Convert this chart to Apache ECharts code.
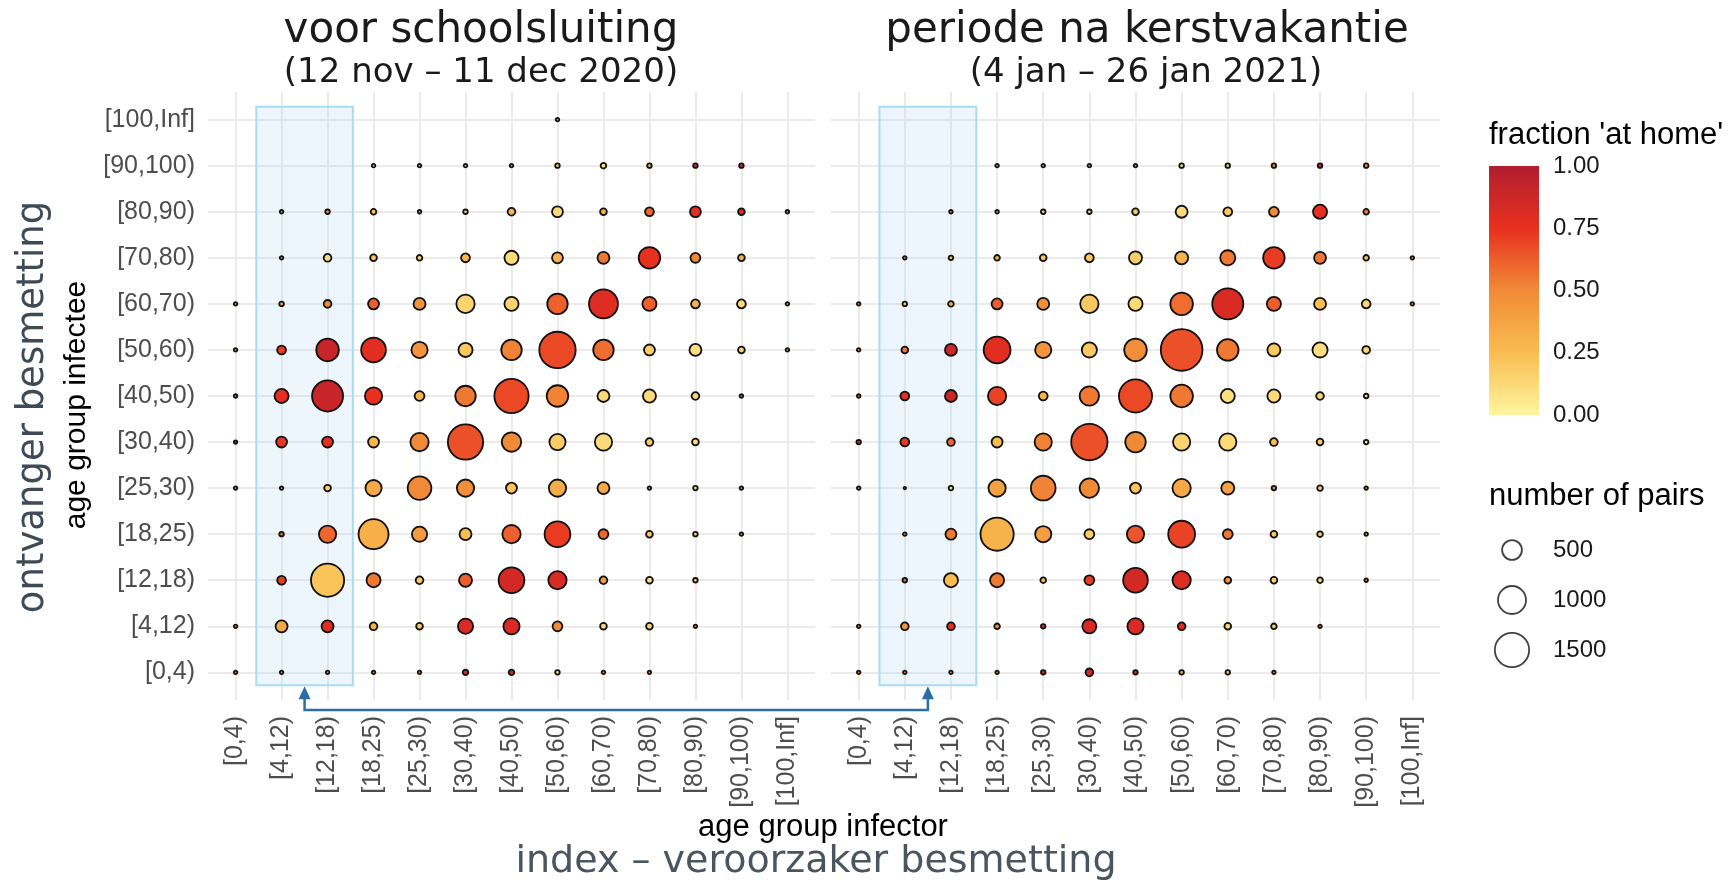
<!DOCTYPE html>
<html>
<head>
  <meta charset="utf-8">
  <title>age group infector / infectee</title>
  <script src="https://cdn.jsdelivr.net/npm/echarts@6/dist/echarts.min.js"></script>
  <style>
    html, body { margin: 0; background: #fff; }
    #chart { width: 1733px; height: 882px; }
  </style>
</head>
<body>
<div id="chart"></div>
<script>
  // age groups, bottom (index 0) to top / left to right
  const ageGroups = ['[0,4)', '[4,12)', '[12,18)', '[18,25)', '[25,30)', '[30,40)', '[40,50)',
    '[50,60)', '[60,70)', '[70,80)', '[80,90)', '[90,100)', '[100,Inf]'];
  const fracTicks = [0, 0.25, 0.5, 0.75, 1];
  const legendSizes = ['500', '1000', '1500'];

  // number of pairs, row = infectee group, column = infector group
  const preCount = [
    [16, 16, 16, 16, 16, 40, 40, 26, 16, 16, null, null, null],
    [16, 183, 183, 76, 57, 293, 335, 124, 57, 57, 16, null, null],
    [null, 99, 1402, 253, 76, 217, 845, 428, 76, 57, 26, null, null],
    [null, 26, 380, 1146, 293, 183, 428, 845, 124, 57, 26, 16, null],
    [16, 16, 57, 335, 712, 380, 152, 380, 183, 16, 26, 16, null],
    [16, 152, 152, 152, 428, 1587, 479, 335, 380, 76, 57, null, null],
    [16, 253, 1229, 380, 124, 533, 1494, 590, 183, 217, 76, 16, null],
    [16, 99, 650, 777, 335, 253, 533, 1684, 533, 152, 183, 57, 16],
    [16, 26, 76, 152, 183, 428, 253, 533, 1067, 253, 99, 99, 16],
    [null, 16, 76, 57, 40, 99, 253, 152, 183, 590, 124, 57, null],
    [null, 16, 26, 40, 16, 26, 76, 152, 57, 99, 152, 57, 16],
    [null, null, null, 16, 16, 16, 16, 26, 40, 26, 26, 26, null],
    [null, null, null, null, null, null, null, 16, null, null, null, null, null]
  ];
  // fraction 'at home'
  const preFrac = [
    [0.5, 0.5, 0.5, 0.5, 0.5, 0.85, 0.85, 0.1, 0.5, 0.5, null, null, null],
    [0.5, 0.35, 0.78, 0.3, 0.2, 0.82, 0.82, 0.5, 0.12, 0.15, 0.5, null, null],
    [null, 0.72, 0.22, 0.55, 0.2, 0.62, 0.85, 0.82, 0.4, 0.1, 0.1, null, null],
    [null, 0.6, 0.6, 0.32, 0.42, 0.25, 0.62, 0.72, 0.6, 0.2, 0.1, 0.5, null],
    [0.5, 0.5, 0.15, 0.35, 0.5, 0.48, 0.22, 0.33, 0.35, 0.5, 0.1, 0.5, null],
    [0.9, 0.74, 0.76, 0.28, 0.5, 0.66, 0.5, 0.18, 0.12, 0.2, 0.1, null, null],
    [0.5, 0.76, 0.9, 0.75, 0.3, 0.55, 0.68, 0.52, 0.12, 0.12, 0.15, 0.5, null],
    [0.5, 0.72, 0.9, 0.78, 0.45, 0.2, 0.52, 0.68, 0.58, 0.18, 0.1, 0.15, 0.5],
    [0.5, 0.3, 0.5, 0.62, 0.45, 0.15, 0.15, 0.62, 0.8, 0.62, 0.3, 0.12, 0.5],
    [null, 0.5, 0.12, 0.2, 0.15, 0.28, 0.12, 0.3, 0.55, 0.75, 0.5, 0.3, null],
    [null, 0.5, 0.4, 0.2, 0.4, 0.1, 0.3, 0.12, 0.3, 0.6, 0.78, 0.8, 0.5],
    [null, null, null, 0.3, 0.4, 0.3, 0.5, 0.2, 0.1, 0.3, 0.8, 0.85, null],
    [null, null, null, null, null, null, null, 0.5, null, null, null, null, null]
  ];
  const postCount = [
    [16, 16, 16, 16, 26, 76, 26, 26, 26, 16, null, null, null],
    [16, 76, 76, 40, 26, 253, 335, 76, 57, 40, 16, null, null],
    [null, 26, 253, 253, 40, 124, 777, 428, 57, 57, 40, 16, null],
    [null, 16, 152, 1402, 335, 124, 380, 916, 124, 57, 40, 16, null],
    [16, 8, 26, 380, 777, 479, 152, 428, 217, 26, 40, 16, null],
    [26, 99, 76, 152, 380, 1684, 533, 380, 380, 76, 57, 26, null],
    [16, 99, 183, 428, 99, 479, 1402, 650, 253, 217, 76, 26, null],
    [16, 57, 183, 916, 335, 293, 650, 2211, 590, 217, 293, 76, null],
    [16, 26, 40, 152, 183, 428, 253, 650, 1229, 253, 183, 99, 16],
    [null, 16, 26, 40, 57, 99, 217, 217, 293, 590, 183, 40, 16],
    [null, null, 16, 16, 26, 26, 57, 183, 99, 124, 253, 40, null],
    [null, null, null, 16, 16, 16, 16, 26, 26, 26, 26, 26, null],
    [null, null, null, null, null, null, null, null, null, null, null, null, null]
  ];
  const postFrac = [
    [0.5, 0.5, 0.5, 0.5, 0.8, 0.85, 0.8, 0.3, 0.2, 0.5, null, null, null],
    [0.5, 0.45, 0.75, 0.5, 0.75, 0.82, 0.82, 0.8, 0.15, 0.2, 0.5, null, null],
    [null, 0.55, 0.25, 0.55, 0.25, 0.72, 0.85, 0.8, 0.45, 0.15, 0.15, 0.5, null],
    [null, 0.55, 0.55, 0.3, 0.4, 0.18, 0.65, 0.7, 0.55, 0.2, 0.15, 0.5, null],
    [0.5, 0.5, 0.1, 0.38, 0.52, 0.5, 0.22, 0.35, 0.38, 0.5, 0.15, 0.5, null],
    [0.85, 0.72, 0.6, 0.25, 0.52, 0.66, 0.5, 0.15, 0.12, 0.25, 0.2, 0.1, null],
    [0.5, 0.76, 0.88, 0.7, 0.3, 0.55, 0.68, 0.55, 0.1, 0.12, 0.15, 0.1, null],
    [0.5, 0.55, 0.88, 0.78, 0.45, 0.2, 0.48, 0.66, 0.55, 0.2, 0.1, 0.15, null],
    [0.5, 0.2, 0.3, 0.62, 0.48, 0.2, 0.12, 0.58, 0.82, 0.62, 0.25, 0.15, 0.5],
    [null, 0.5, 0.2, 0.3, 0.2, 0.2, 0.18, 0.3, 0.55, 0.72, 0.55, 0.2, 0.5],
    [null, null, 0.5, 0.3, 0.1, 0.1, 0.2, 0.12, 0.2, 0.5, 0.75, 0.55, null],
    [null, null, null, 0.5, 0.5, 0.5, 0.5, 0.1, 0.2, 0.55, 0.8, 0.45, null],
    [null, null, null, null, null, null, null, null, null, null, null, null, null]
  ];

  const fracColors = ['#FFF5A0', '#F9BD50', '#F18A37', '#E8301F', '#B11E2F'];
  const gridColor = '#EBEBEB';
  const tickVals = ageGroups.map((g, i) => i);
  const ringWidth = 1.8;

  function toPoints(count, frac) {
    const pts = [];
    count.forEach((row, y) => row.forEach((n, x) => {
      if (n != null) pts.push([x, y, frac[y][x], n]);
    }));
    return pts;
  }
  // area scale: diameter grows with sqrt(n); the ring adds its own width
  function dotSize(n) { return 0.886 * Math.sqrt(n); }

  function catAxis(gridIndex, showLabels, isY) {
    return {
      type: 'value', gridIndex: gridIndex, min: -0.6, max: 12.6,
      axisLine: { show: false },
      axisTick: { show: false, customValues: tickVals },
      axisLabel: {
        show: showLabels, customValues: tickVals,
        formatter: v => ageGroups[v],
        fontFamily: 'Liberation Sans', fontSize: 25, color: '#4D4D4D',
        rotate: isY ? 0 : 90, margin: isY ? 13 : 16
      },
      splitLine: { show: true, lineStyle: { color: gridColor, width: 2 } }
    };
  }

  function boxSeries(xi) {
    return {
      type: 'scatter', xAxisIndex: xi, yAxisIndex: xi, data: [], z: 10, silent: true,
      markArea: {
        silent: true,
        itemStyle: { color: 'rgba(175,212,240,0.22)', borderColor: '#A8DCF5', borderWidth: 2 },
        data: [[{ coord: [0.45, -0.28] }, { coord: [2.55, 12.28] }]]
      }
    };
  }

  const bubbleStyle = { borderColor: '#111', borderWidth: ringWidth, opacity: 1 };
  const textFont = 'Liberation Sans';

  let chart = echarts.init(document.getElementById('chart'));
  chart.setOption({
    backgroundColor: '#fff',
    animation: false,
    grid: [
      { left: 208, top: 92, width: 607, height: 608 },
      { left: 831, top: 92, width: 609, height: 608 },
      { left: 1489, top: 166, width: 50, height: 249 },
      { left: 1490, top: 525, width: 44, height: 150 }
    ],
    xAxis: [
      catAxis(0, true, false),
      catAxis(1, true, false),
      { type: 'category', gridIndex: 2, data: ['c'], show: false },
      { type: 'category', gridIndex: 3, data: ['s'], show: false }
    ],
    yAxis: [
      catAxis(0, true, true),
      catAxis(1, false, true),
      {
        type: 'value', gridIndex: 2, min: 0, max: 1, interval: 0.25, position: 'right',
        axisLine: { show: false }, splitLine: { show: false },
        axisTick: { show: true, inside: true, length: 6, lineStyle: { color: '#fff', width: 1 } },
        axisLabel: { formatter: v => v.toFixed(2), fontFamily: textFont, fontSize: 24, color: '#1a1a1a', margin: 14 }
      },
      {
        type: 'category', gridIndex: 3, data: legendSizes, inverse: true, position: 'right',
        axisLine: { show: false }, axisTick: { show: false }, splitLine: { show: false },
        axisLabel: { fontFamily: textFont, fontSize: 24, color: '#1a1a1a', margin: 19 }
      }
    ],
    visualMap: {
      type: 'continuous', show: false, min: 0, max: 1, dimension: 2, seriesIndex: [0, 1],
      inRange: { color: fracColors }
    },
    series: [
      {
        type: 'scatter', xAxisIndex: 0, yAxisIndex: 0, z: 3,
        data: toPoints(preCount, preFrac),
        symbolSize: v => dotSize(v[3]), itemStyle: bubbleStyle
      },
      {
        type: 'scatter', xAxisIndex: 1, yAxisIndex: 1, z: 3,
        data: toPoints(postCount, postFrac),
        symbolSize: v => dotSize(v[3]), itemStyle: bubbleStyle
      },
      boxSeries(0),
      boxSeries(1),
      {
        type: 'bar', xAxisIndex: 2, yAxisIndex: 2, data: [1], barWidth: '100%', silent: true,
        itemStyle: {
          color: new echarts.graphic.LinearGradient(0, 0, 0, 1,
            fracColors.slice().reverse().map((c, i) => ({ offset: i / (fracColors.length - 1), color: c })))
        }
      },
      {
        type: 'scatter', xAxisIndex: 3, yAxisIndex: 3, silent: true,
        data: legendSizes.map((s, i) => [0, i, Number(s)]),
        symbolSize: v => dotSize(v[2]),
        itemStyle: { color: '#fff', borderColor: '#111', borderWidth: ringWidth }
      }
    ]
  });

  // titles, axis titles and the arrow linking the two highlighted columns
  const p1 = chart.convertToPixel({ gridIndex: 0 }, [1.5, -0.28]);
  const p2 = chart.convertToPixel({ gridIndex: 1 }, [1.5, -0.28]);
  const lineY = 710;
  const arrowColor = '#2B6EA6';
  function head(x, y) {
    return { type: 'polygon', shape: { points: [[x, y + 1], [x - 6, y + 14], [x + 6, y + 14]] }, style: { fill: arrowColor } };
  }
  function label(text, x, y, size, color, family, rot, align) {
    return {
      type: 'text', x: x, y: y, rotation: rot || 0,
      style: { text: text, fontSize: size, fill: color, fontFamily: family, align: align || 'center', verticalAlign: 'middle' }
    };
  }

  chart.setOption({
    graphic: [
      label('voor schoolsluiting', 481, 31, 42, '#1a1a1a', 'DejaVu Sans'),
      label('(12 nov \u2013 11 dec 2020)', 481, 73, 34, '#1a1a1a', 'DejaVu Sans'),
      label('periode na kerstvakantie', 1147, 31, 42, '#1a1a1a', 'DejaVu Sans'),
      label('(4 jan \u2013 26 jan 2021)', 1146, 73, 34, '#1a1a1a', 'DejaVu Sans'),
      label('ontvanger besmetting', 33, 407, 37, '#3E4A55', 'DejaVu Sans', Math.PI / 2),
      label('age group infectee', 77, 405, 30, '#000', textFont, Math.PI / 2),
      label('age group infector', 823, 827, 31, '#000', textFont),
      label('index \u2013 veroorzaker besmetting', 816, 862, 38, '#4A5560', 'DejaVu Sans'),
      label("fraction 'at home'", 1489, 135, 31, '#000', textFont, 0, 'left'),
      label('number of pairs', 1489, 496, 31, '#000', textFont, 0, 'left'),
      {
        type: 'polyline',
        shape: { points: [[p1[0], p1[1] + 12], [p1[0], lineY], [p2[0], lineY], [p2[0], p2[1] + 12]] },
        style: { stroke: arrowColor, lineWidth: 2.5, fill: null }
      },
      head(p1[0], p1[1]),
      head(p2[0], p2[1])
    ]
  });
</script>
</body>
</html>
